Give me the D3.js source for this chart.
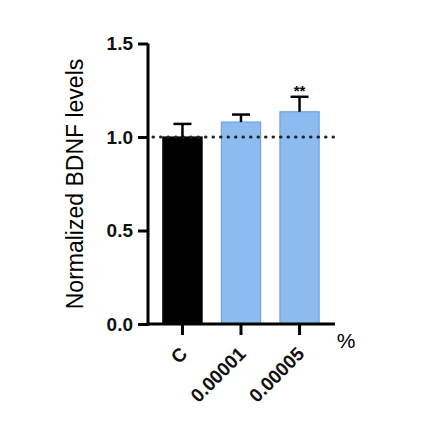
<!DOCTYPE html>
<html>
<head>
<meta charset="utf-8">
<script src="https://cdn.jsdelivr.net/npm/d3@7"></script>
<style>
  body { margin: 0; background: #fff; }
  svg { display: block; font-family: "Liberation Sans", Arial, sans-serif; }
</style>
</head>
<body>
<div id="chart"></div>
<script>
const groups = ["C", "0.00001", "0.00005"];
const means = [1.0, 1.08, 1.135];
const errors = [0.07, 0.04, 0.08];
const colors = ["#000000", "#8cbcef", "#8cbcef"];
const yTicks = [0.0, 0.5, 1.0, 1.5];
const stars = ["", "", "**"];

const W = 437, H = 434;
const svg = d3.select("#chart").append("svg")
    .attr("width", W)
    .attr("height", H);

const x = d3.scaleBand().domain(groups).range([157, 325]).paddingInner(0.33).paddingOuter(0.1);
const y = d3.scaleLinear().domain([0, 1.5]).range([324, 43.5]);

// bars
svg.selectAll(".bar").data(groups).enter().append("rect")
    .attr("class", "bar")
    .attr("x", d => x(d))
    .attr("width", x.bandwidth())
    .attr("y", (d, i) => y(means[i]))
    .attr("height", (d, i) => y(0) - y(means[i]))
    .attr("fill", (d, i) => colors[i])
    .attr("stroke", (d, i) => i === 0 ? "#000" : "#6fa3db")
    .attr("stroke-width", 1.2);

// reference line at 1.0
svg.append("line")
    .attr("x1", 153).attr("x2", 334)
    .attr("y1", y(1)).attr("y2", y(1))
    .attr("stroke", "#222").attr("stroke-width", 3)
    .attr("stroke-dasharray", "0.5,7")
    .attr("stroke-linecap", "round");

// error bars
const eb = svg.selectAll(".err").data(groups).enter().append("g").attr("class", "err");
eb.append("line")
    .attr("x1", d => x(d) + x.bandwidth() / 2)
    .attr("x2", d => x(d) + x.bandwidth() / 2)
    .attr("y1", (d, i) => y(means[i]))
    .attr("y2", (d, i) => y(means[i] + errors[i]))
    .attr("stroke", "#000").attr("stroke-width", 2.5);
eb.append("line")
    .attr("x1", d => x(d) + x.bandwidth() / 2 - 9)
    .attr("x2", d => x(d) + x.bandwidth() / 2 + 9)
    .attr("y1", (d, i) => y(means[i] + errors[i]))
    .attr("y2", (d, i) => y(means[i] + errors[i]))
    .attr("stroke", "#000").attr("stroke-width", 2.5);

// significance stars
svg.selectAll(".star").data(groups).enter().append("text")
    .attr("x", d => x(d) + x.bandwidth() / 2)
    .attr("y", (d, i) => y(means[i] + errors[i]) - 1)
    .attr("text-anchor", "middle")
    .attr("font-size", 15).attr("font-weight", "bold")
    .text((d, i) => stars[i]);

// y axis
const yAxis = svg.append("g")
    .attr("transform", "translate(148,0)")
    .call(d3.axisLeft(y).tickValues(yTicks).tickFormat(d3.format(".1f")).tickSize(10).tickSizeOuter(0));
yAxis.select(".domain").attr("stroke-width", 3).attr("d", `M0,${y(1.5)}V${y(0) + 1.5}`);
yAxis.selectAll(".tick line").attr("stroke-width", 3);
yAxis.selectAll(".tick text")
    .attr("font-size", 19).attr("font-weight", "bold").attr("fill", "#111")
    .attr("x", -15).attr("font-family", "Liberation Sans, Arial, sans-serif");

// x axis
const xAxis = svg.append("g")
    .attr("transform", `translate(0,${y(0)})`)
    .call(d3.axisBottom(x).tickSize(11).tickSizeOuter(0));
xAxis.select(".domain").attr("stroke-width", 3).attr("d", "M146.5,0H335");
xAxis.selectAll(".tick line").attr("stroke-width", 3);
xAxis.selectAll(".tick text")
    .attr("font-size", 19).attr("font-weight", "bold").attr("fill", "#111")
    .attr("font-family", "Liberation Sans, Arial, sans-serif")
    .attr("text-anchor", "end")
    .attr("dy", null).attr("y", null)
    .attr("transform", "translate(6,31) rotate(-45)");

// percent label
svg.append("text")
    .attr("x", 346).attr("y", 348)
    .attr("text-anchor", "middle")
    .attr("font-size", 21)
    .text("%");

// y label
svg.append("text")
    .attr("transform", "translate(83,184) rotate(-90)")
    .attr("text-anchor", "middle")
    .attr("font-size", 23)
    .text("Normalized BDNF levels");
</script>
</body>
</html>
